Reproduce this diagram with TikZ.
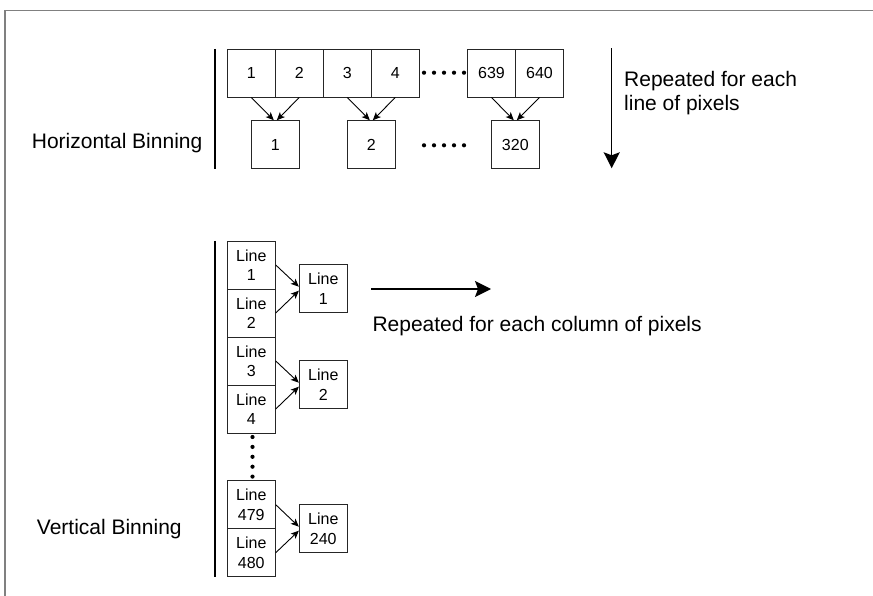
\documentclass[tikz,border=0pt]{standalone}
\usepackage{fontspec}
\setmainfont{Liberation Sans}
\usepackage{tikz}
\usetikzlibrary{arrows.meta}
\usetikzlibrary{positioning}

\newcommand{\labelfont}{\fontsize{21}{24}\selectfont}
\newcommand{\cellfont}{\fontsize{16}{19.3}\selectfont}

\tikzset{
    cell/.style={draw=black!85, line width=0.9pt, minimum width=48pt, minimum height=48pt,
        inner sep=0pt, align=center, font=\cellfont},
    binarrow/.style={-{Stealth[length=8pt,width=7pt,inset=2pt]}, line width=0.9pt},
    bigarrow/.style={-{Stealth[length=16pt,width=16pt,inset=3pt]}, line width=1.5pt},
    caption/.style={font=\labelfont, inner sep=0pt, anchor=base west, align=left},
    bar/.style={line width=1.8pt}
}

\begin{document}
\begin{tikzpicture}[x=1pt,y=-1pt]
                \useasboundingbox (0,0) rectangle (873,596);
                % Frame
                \draw[gray, line width=1.5pt] (5,596) -- (5,10.5) -- (873,10.5);

                % Horizontal binning
                \draw[bar] (215,49) -- (215,168.7);
                \node[caption] (hbin) at (31.7,148.3) {Horizontal Binning};
                \foreach \n/\x in {1/251.3, 2/299.3, 3/347.3, 4/395.3, 639/491.5, 640/539.5} {
                    \node[cell] (h\n) at (\x,73) {\n};
                }
                \foreach \n/\x in {1/275.3, 2/371.3, 320/515.3} {
                    \node[cell] (b\n) at (\x,144.7) {\n};
                }
                \foreach \a/\b/\c in {1/2/1, 3/4/2, 639/640/320} {
                    \draw[binarrow] (h\a.south) -- ([xshift=-1.5pt]b\c.north);
                    \draw[binarrow] (h\b.south) -- ([xshift=1.5pt]b\c.north);
                }
                \foreach \i in {0,...,4} {
                    \fill (424+10*\i,72.7) circle (2.1pt);
                    \fill (424+10*\i,145.3) circle (2.1pt);
                }
                \coordinate (rtop) at (611.7,48.3);
                \coordinate (rbot) at (611.7,168.3);
                \draw[bigarrow] (rtop) -- (rbot);
                \node[caption] (rline) at (624,110.7) {Repeated for each\\line of pixels};

                % Vertical binning
                \draw[bar] (215,241) -- (215,576.7);
                \node[caption] (vbin) at (36.7,534.7) {Vertical Binning};
                \foreach \n/\y in {1/265, 2/313, 3/361, 4/409, 479/504.7, 480/552.7} {
                    \node[cell] (v\n) at (251.3,\y) {Line\\\n};
                }
                \foreach \n/\y in {1/288.7, 2/384.7, 240/528.7} {
                    \node[cell] (w\n) at (323.3,\y) {Line\\\n};
                }
                \foreach \a/\b/\c in {1/2/1, 3/4/2, 479/480/240} {
                    \draw[binarrow] (v\a.east) -- ([yshift=2pt]w\c.west);
                    \draw[binarrow] (v\b.east) -- ([yshift=-2pt]w\c.west);
                }
                \foreach \i in {0,...,4} {
                    \fill (252.5,437+9.9*\i) circle (2.1pt);
                }
                \coordinate (cleft) at (371,289);
                \coordinate (cright) at (491,289);
                \draw[bigarrow] (cleft) -- (cright);
                \node[caption] (ccol) at (372.3,331.7) {Repeated for each column of pixels};
            \end{tikzpicture}
\end{document}
